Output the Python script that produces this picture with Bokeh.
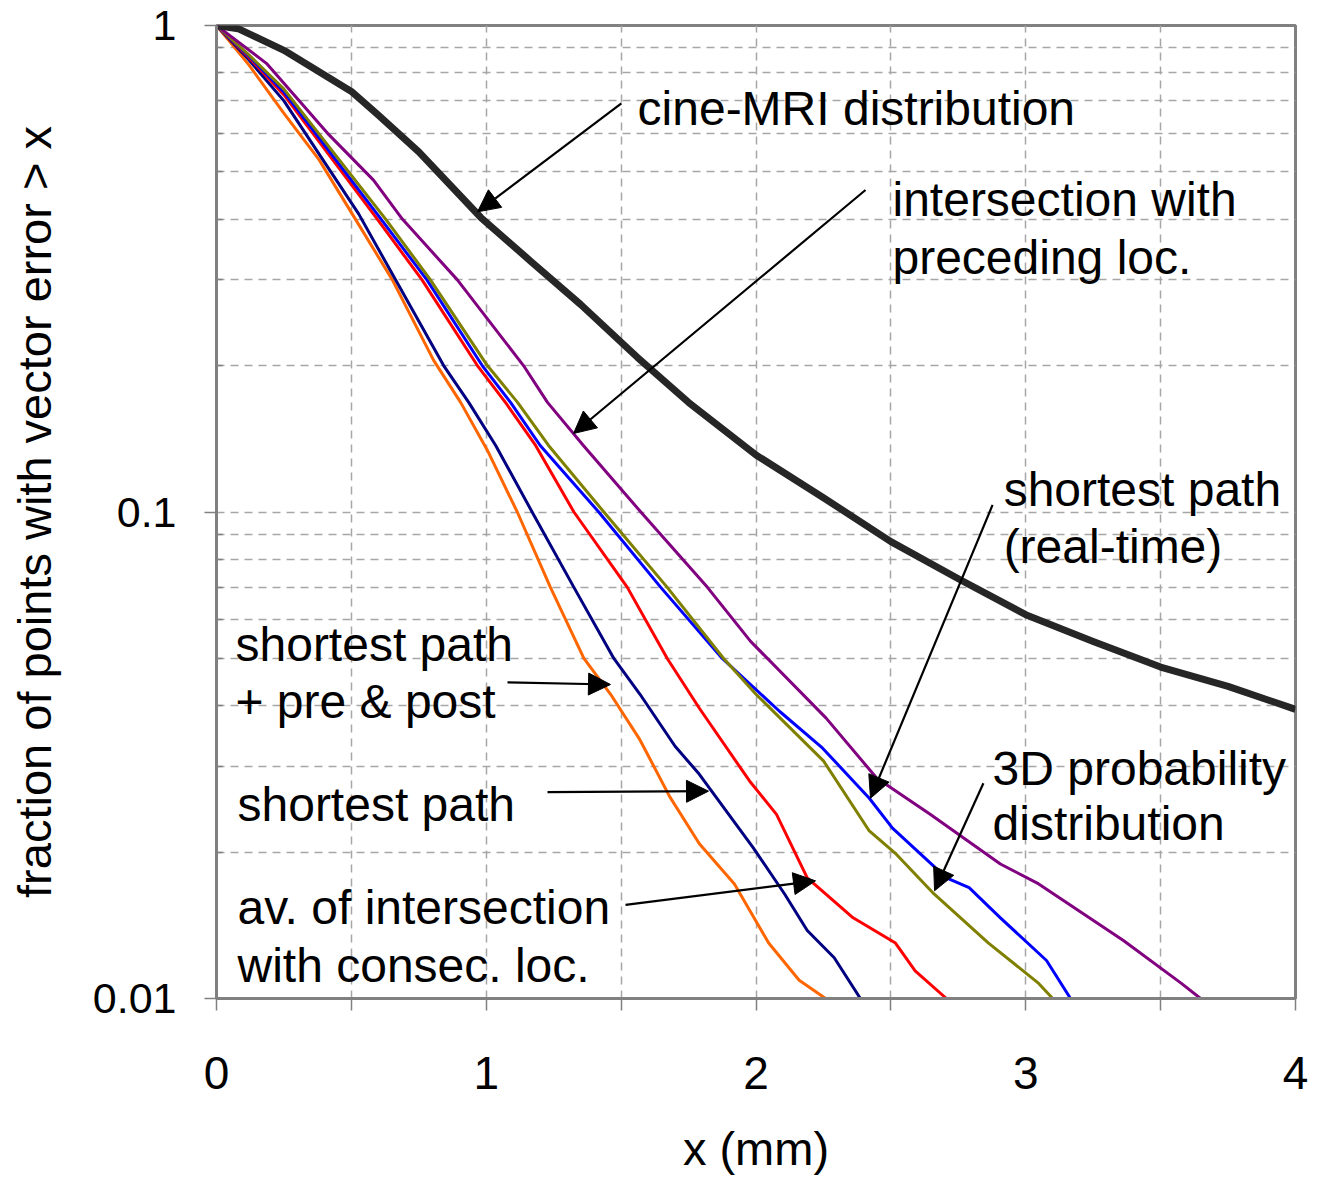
from bokeh.plotting import figure
from bokeh.models import (Range1d, FixedTicker, CustomJSTickFormatter, Label,
                          Arrow, NormalHead)
from bokeh.embed import file_html
from bokeh.resources import INLINE

# ---------------- data ----------------
x_ticks = [0, 1, 2, 3, 4]
x_minor = [0.5, 1.5, 2.5, 3.5]
y_ticks = [0.01, 0.1, 1]
y_minor = [0.02, 0.03, 0.04, 0.05, 0.06, 0.07, 0.08, 0.09,
           0.2, 0.3, 0.4, 0.5, 0.6, 0.7, 0.8, 0.9]

cine_x = [0, 0.08, 0.25, 0.5, 0.6, 0.75, 0.98, 1.164, 1.35, 1.56, 1.75, 2.0,
          2.25, 2.5, 2.75, 3.0, 3.25, 3.5, 3.75, 4.0]
cine_y = [1, 0.985, 0.889, 0.732, 0.654, 0.55, 0.403, 0.328, 0.267, 0.208,
          0.168, 0.131, 0.107, 0.0869, 0.0729, 0.0615, 0.0542, 0.048, 0.0438,
          0.0393]

prec_x = [0, 0.185, 0.411, 0.582, 0.689, 0.893, 1.138, 1.227, 1.36, 1.573, 1.82,
          1.98, 2.26, 2.447, 2.647, 2.906, 3.048, 3.362, 3.577, 3.648]
prec_y = [1, 0.836, 0.601, 0.481, 0.4, 0.3, 0.2, 0.168, 0.137, 0.1, 0.07,
          0.0542, 0.0377, 0.0284, 0.0239, 0.0189, 0.0172, 0.01316, 0.01074, 0.01]

prob_x = [0, 0.12, 0.25, 0.627, 0.793, 1.004, 1.116, 1.231, 1.436, 1.671, 1.88,
          2.0, 2.25, 2.42, 2.52, 2.66, 2.862, 3.048, 3.10]
prob_y = [1, 0.87, 0.74, 0.4, 0.3, 0.2, 0.168, 0.137, 0.1, 0.07, 0.05,
          0.0422, 0.0308, 0.0221, 0.0198, 0.0164, 0.013, 0.01074, 0.01]

rt_x = [0, 0.12, 0.25, 0.61, 0.78, 0.985, 1.09, 1.20, 1.417, 1.647, 1.875,
        2.088, 2.247, 2.42, 2.506, 2.706, 2.79, 2.906, 3.077, 3.166]
rt_y = [1, 0.865, 0.73, 0.4, 0.3, 0.2, 0.168, 0.137, 0.1, 0.07, 0.05,
        0.0389, 0.0327, 0.0258, 0.0224, 0.0177, 0.0169, 0.01465, 0.01197, 0.01]

consec_x = [0, 0.12, 0.25, 0.596, 0.762, 0.967, 1.071, 1.183, 1.325, 1.523,
            1.671, 1.79, 1.976, 2.076, 2.19, 2.36, 2.517, 2.59, 2.706]
consec_y = [1, 0.86, 0.72, 0.4, 0.3, 0.2, 0.168, 0.137, 0.1, 0.07,
            0.05, 0.0395, 0.028, 0.0239, 0.0177, 0.01465, 0.013, 0.0114, 0.01]

sp_x = [0, 0.12, 0.25, 0.527, 0.842, 0.935, 1.035, 1.17, 1.325, 1.473, 1.57,
        1.70, 1.79, 1.99, 2.106, 2.19, 2.29, 2.387]
sp_y = [1, 0.85, 0.70, 0.41, 0.2, 0.168, 0.137, 0.1, 0.07, 0.05, 0.0422,
        0.033, 0.0289, 0.0204, 0.0164, 0.0138, 0.01213, 0.01]

spp_x = [0, 0.12, 0.25, 0.38, 0.503, 0.652, 0.805, 0.905, 1.004, 1.115, 1.238,
         1.362, 1.461, 1.57, 1.68, 1.79, 1.92, 2.047, 2.16, 2.258]
spp_y = [1, 0.83, 0.66, 0.53, 0.41, 0.30, 0.205, 0.168, 0.134, 0.1, 0.07,
         0.05, 0.0422, 0.034, 0.026, 0.0208, 0.0172, 0.013, 0.0109, 0.01]

FONT = "Liberation Sans"

p = figure(width=1318, height=1179, y_axis_type="log",
           x_range=Range1d(0, 4), y_range=Range1d(0.01, 1),
           output_backend="svg", toolbar_location=None,
           min_border_left=216, min_border_right=23,
           min_border_top=25, min_border_bottom=181)

p.background_fill_color = "white"
p.border_fill_color = "white"
p.outline_line_color = "#808080"
p.outline_line_width = 3

# axes
p.xaxis.ticker = FixedTicker(ticks=x_ticks, minor_ticks=x_minor)
p.yaxis.ticker = FixedTicker(ticks=y_ticks, minor_ticks=y_minor)
p.yaxis.formatter = CustomJSTickFormatter(code="return tick.toString();")
for ax in (p.xaxis[0], p.yaxis[0]):
    ax.axis_line_color = "#808080"
    ax.axis_line_width = 3
    ax.major_tick_line_color = "#808080"
    ax.minor_tick_line_color = "#808080"
    ax.major_tick_line_width = 1.5
    ax.minor_tick_line_width = 1.5
    ax.major_label_text_font = FONT
    ax.major_label_text_font_size = "46px"
    ax.major_label_text_color = "black"
    ax.axis_label_text_font = FONT
    ax.axis_label_text_font_size = "47px"
    ax.axis_label_text_font_style = "normal"
    ax.axis_label_text_color = "black"
p.yaxis.major_label_text_font_size = "43px"

p.xaxis.major_tick_out = 12
p.xaxis.major_tick_in = 0
p.xaxis.minor_tick_out = 12
p.xaxis.minor_tick_in = 0
p.xaxis.major_label_standoff = 46
p.xaxis.axis_label = "x (mm)"
p.xaxis.axis_label_standoff = 30

p.yaxis.major_tick_out = 12
p.yaxis.major_tick_in = 0
p.yaxis.minor_tick_out = 0
p.yaxis.minor_tick_in = 6
p.yaxis.major_label_standoff = 28
p.yaxis.axis_label = "fraction of points with vector error > x"
p.yaxis.axis_label_standoff = 29

# grids
for g in (p.xgrid[0], p.ygrid[0]):
    g.grid_line_color = "#a6a6a6"
    g.grid_line_width = 1.5
    g.grid_line_dash = "8 6"
    g.minor_grid_line_color = "#a6a6a6"
    g.minor_grid_line_width = 1.5
    g.minor_grid_line_dash = "8 6"

# curves
p.line(spp_x, spp_y, line_color="#FF6600", line_width=3, line_join="round")
p.line(sp_x, sp_y, line_color="#000080", line_width=3, line_join="round")
p.line(consec_x, consec_y, line_color="#FF0000", line_width=3, line_join="round")
p.line(rt_x, rt_y, line_color="#0000FF", line_width=3, line_join="round")
p.line(prob_x, prob_y, line_color="#808000", line_width=3, line_join="round")
p.line(prec_x, prec_y, line_color="#800080", line_width=3, line_join="round")
p.line(cine_x, cine_y, line_color="#262626", line_width=7, line_join="round")

# annotation texts (left edge, baseline) in data units
labels = [
    ("cine-MRI distribution", 1.561, 0.676),
    ("intersection with", 2.506, 0.438),
    ("preceding loc.", 2.506, 0.333),
    ("shortest path", 2.918, 0.1115),
    ("(real-time)", 2.918, 0.0848),
    ("3D probability", 2.877, 0.02973),
    ("distribution", 2.877, 0.02284),
    ("shortest path", 0.0704, 0.0534),
    ("+ pre & post", 0.0704, 0.0408),
    ("shortest path", 0.0778, 0.0251),
    ("av. of intersection", 0.0778, 0.01536),
    ("with consec. loc.", 0.0778, 0.01168),
]
for txt, lx, ly in labels:
    p.add_layout(Label(x=lx, y=ly, text=txt, text_font=FONT,
                       text_font_size="48px", text_color="black",
                       text_align="left", text_baseline="alphabetic"))

arrows = [
    (1.501, 0.692, 0.9676, 0.414),
    (2.406, 0.459, 1.3235, 0.145),
    (2.877, 0.1034, 2.4245, 0.0258),
    (2.843, 0.0277, 2.662, 0.01665),
    (1.0788, 0.04464, 1.4606, 0.0442),
    (1.2271, 0.02656, 1.8239, 0.02668),
    (1.5162, 0.01558, 2.2206, 0.01745),
]
for xs, ys, xe, ye in arrows:
    p.add_layout(Arrow(end=NormalHead(size=22, fill_color="black",
                                      line_color="black", line_width=1),
                       x_start=xs, y_start=ys, x_end=xe, y_end=ye,
                       line_color="black", line_width=2.2))

open("out.html", "w").write(file_html(p, INLINE))
